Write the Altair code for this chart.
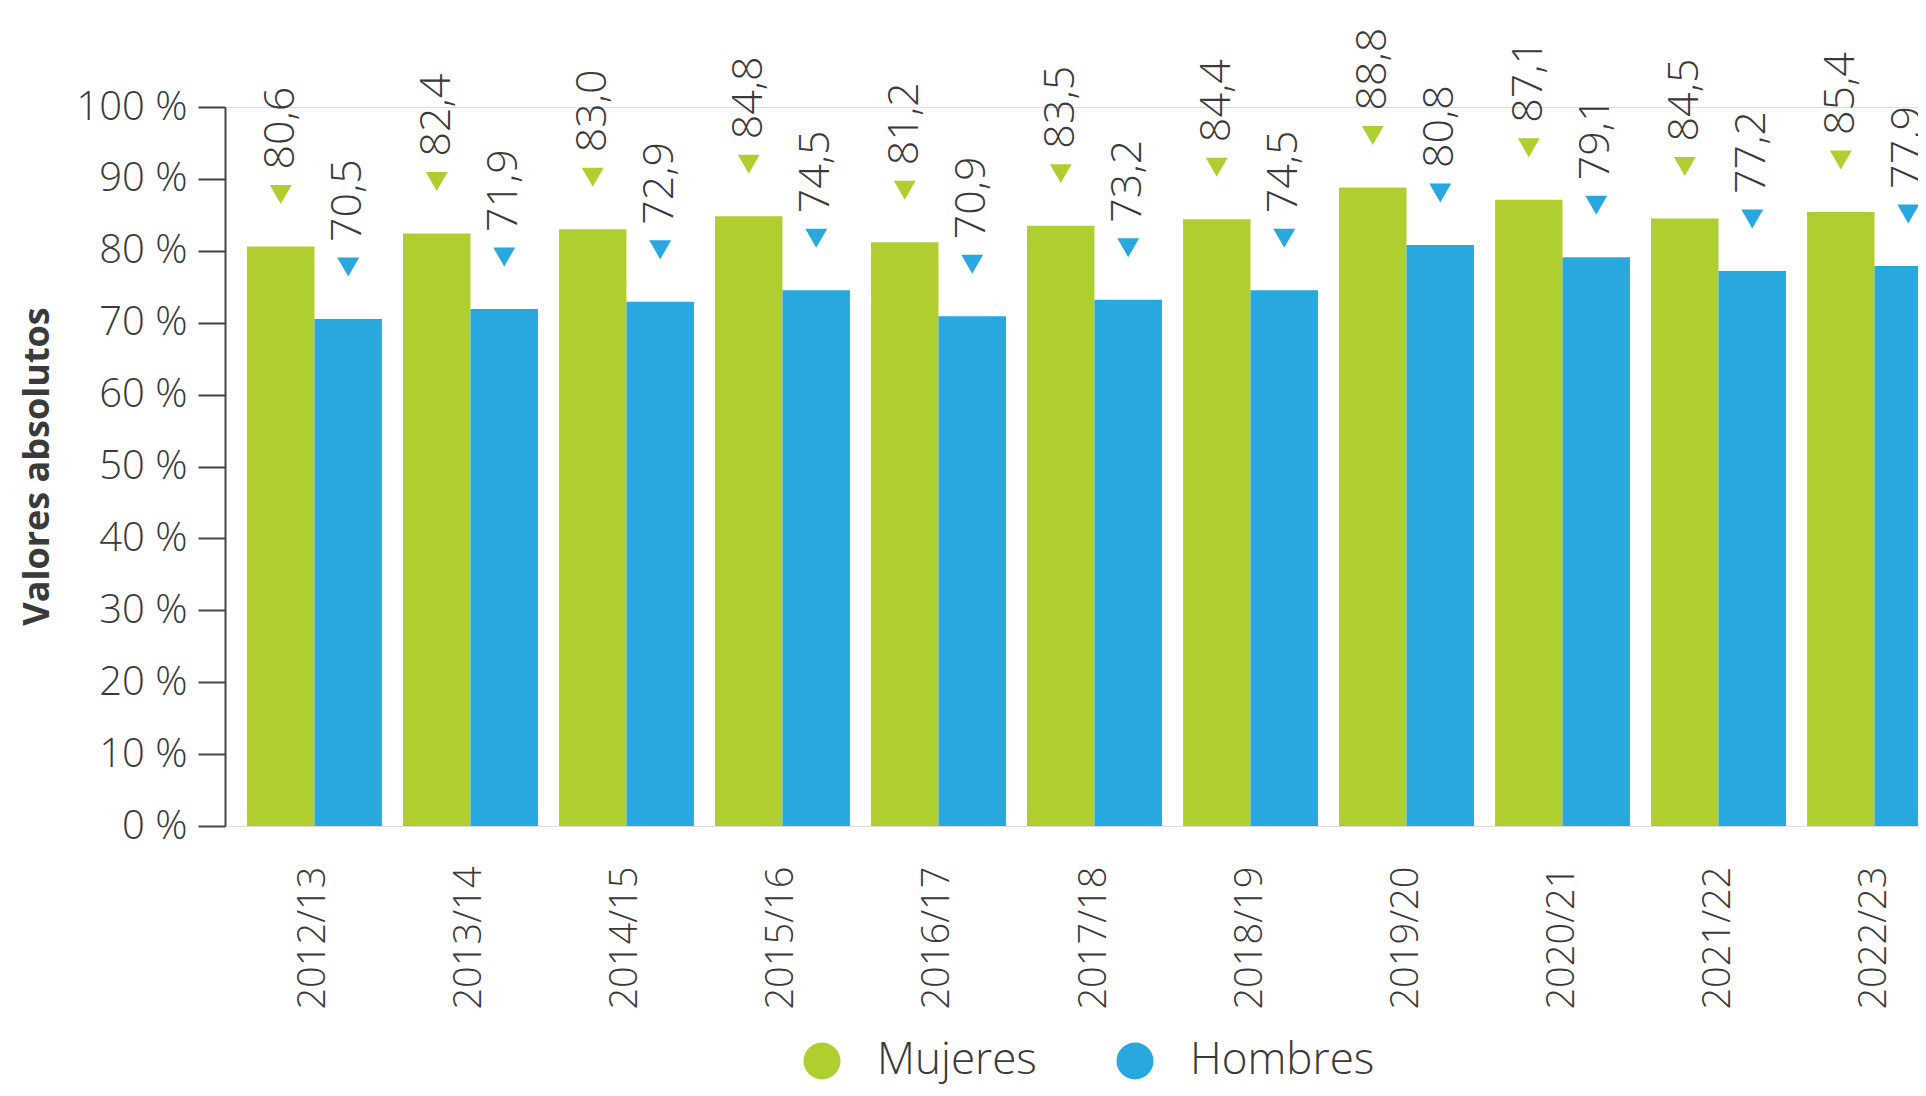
import altair as alt
import pandas as pd

periodos = ["2012/13", "2013/14", "2014/15", "2015/16", "2016/17", "2017/18",
            "2018/19", "2019/20", "2020/21", "2021/22", "2022/23"]
mujeres = [80.6, 82.4, 83.0, 84.8, 81.2, 83.5, 84.4, 88.8, 87.1, 84.5, 85.4]
hombres = [70.5, 71.9, 72.9, 74.5, 70.9, 73.2, 74.5, 80.8, 79.1, 77.2, 77.9]
sexos = ["Mujeres", "Hombres"]
colores = ["#afce30", "#29a8e0"]
y_ticks = [0, 10, 20, 30, 40, 50, 60, 70, 80, 90, 100]

rows = []
for i, p in enumerate(periodos):
    for s, vals in zip(sexos, [mujeres, hombres]):
        v = vals[i]
        rows.append({"periodo": p, "sexo": s, "valor": v,
                     "etiqueta": f"{v:.1f}".replace(".", ",")})
df = pd.DataFrame(rows)

FONT = "Open Sans"
TXT = "#3a3a3a"

x = alt.X("periodo:N", sort=periodos,
          scale=alt.Scale(range=[0, 1739], paddingInner=0.135, paddingOuter=0.141),
          axis=alt.Axis(title=None, labelAngle=270, labelPadding=40, ticks=False,
                        domain=False, labelFontSize=38, labelFont=FONT,
                        labelFontWeight=300, labelColor=TXT))
xo = alt.XOffset("sexo:N", sort=sexos, scale=alt.Scale(paddingInner=0, paddingOuter=0))
y = alt.Y("valor:Q", scale=alt.Scale(domain=[0, 100], nice=False),
          axis=alt.Axis(values=y_ticks, labelExpr="datum.value + ' %'",
                        title="Valores absolutos", titleFontSize=36, titleFont=FONT,
                        titleFontWeight="bold", titleColor=TXT, titleAngle=270,
                        titleX=-188, titleY=359, titleAlign="center",
                        titleBaseline="middle",
                        labelFontSize=40, labelFont=FONT, labelFontWeight=300,
                        labelColor=TXT, labelPadding=11, tickSize=27,
                        tickWidth=2, tickColor="#444444", domainColor="#444444",
                        domainWidth=2, grid=False))
color = alt.Color("sexo:N", sort=sexos,
                  scale=alt.Scale(domain=sexos, range=colores),
                  legend=alt.Legend(title=None, orient="none", direction="horizontal",
                                    legendX=575, legendY=932,
                                    symbolType="circle", symbolSize=1370,
                                    symbolStrokeWidth=0, symbolOpacity=1,
                                    labelFontSize=44, labelFont=FONT,
                                    labelFontWeight=300, labelColor=TXT,
                                    labelLimit=0, labelOffset=33, columnPadding=76))

base = alt.Chart(df)
bars = base.mark_bar(clip=True).encode(x=x, xOffset=xo, y=y, color=color)
tri = base.mark_point(shape="triangle-down", size=480, filled=True, opacity=1,
                      yOffset=-52).encode(
    x=x, xOffset=xo, y=y,
    color=alt.Color("sexo:N", scale=alt.Scale(domain=sexos, range=colores), legend=None))
labels = base.mark_text(angle=270, align="left", baseline="middle", dx=77,
                        fontSize=43, font=FONT, fontWeight=300, color=TXT).encode(
    x=x, xOffset=xo, y=y, text="etiqueta:N")

chart = alt.layer(bars, tri, labels).properties(
    width=1693, height=719,
    autosize=alt.AutoSizeParams(type="none"),
    padding={"left": 217, "top": 99, "right": 0, "bottom": 262},
).configure_view(stroke=None).configure(background="white")

chart.save("out.html", embed_options={"renderer": "svg", "actions": False})
